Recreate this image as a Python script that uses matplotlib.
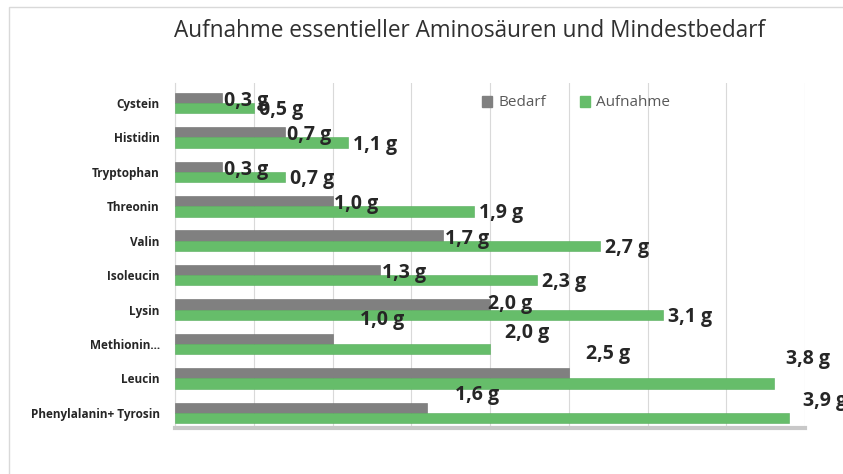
import matplotlib
matplotlib.use("Agg")
import matplotlib.pyplot as plt
from matplotlib import font_manager
from matplotlib.patches import Rectangle
import numpy as np

# data (top to bottom, as in the chart)
categories = ['Cystein', 'Histidin', 'Tryptophan', 'Threonin', 'Valin',
              'Isoleucin', 'Lysin', 'Methionin...', 'Leucin', 'Phenylalanin+ Tyrosin']
bedarf = [0.3, 0.7, 0.3, 1.0, 1.7, 1.3, 2.0, 1.0, 2.5, 1.6]
aufnahme = [0.5, 1.1, 0.7, 1.9, 2.7, 2.3, 3.1, 2.0, 3.8, 3.9]

GRAY = '#808080'
GREEN = '#66bd6a'
GRID = '#d9d9d9'
TEXT = '#262626'

available = {f.name for f in font_manager.fontManager.ttflist}
NARROW = 'Liberation Sans Narrow' if 'Liberation Sans Narrow' in available else 'Open Sans'
plt.rcParams['font.family'] = [NARROW, 'DejaVu Sans']

# label offsets in pixels (dx, dy up) from bar end; the original puts some labels off the bars
bedarf_off = {6: (-2, 0), 7: (28, 19), 8: (17, 19), 9: (28, 13)}
aufnahme_off = {7: (15, 16), 8: (13, 25), 9: (14, 17)}


def fmt(v):
    return f"{v:.1f} g".replace('.', ',')


def draw_chart():
    fig = plt.figure(figsize=(8.43, 4.74), dpi=100)
    fig.patches.append(Rectangle((9 / 843, -0.1), 1.1, 1 - 7 / 474 + 0.1,
                                 transform=fig.transFigure, fill=False,
                                 edgecolor=GRID, linewidth=1))

    ax = fig.add_axes([175 / 843, 1 - 428 / 474, 630 / 843, 345 / 474])
    y = np.arange(len(categories))
    h = 0.3
    ax.barh(y - h / 2, bedarf, height=h, color=GRAY, edgecolor='#6e6e6e', linewidth=0.4, zorder=3)
    ax.barh(y + h / 2, aufnahme, height=h, color=GREEN, edgecolor='#58ad5c', linewidth=0.4, zorder=3)

    ax.set_xlim(0, 4)
    ax.set_ylim(9.44, -0.58)
    ax.set_xticks(np.arange(0, 4.01, 0.5))
    ax.xaxis.grid(True, color=GRID, linewidth=0.8, zorder=0)
    ax.tick_params(axis='x', length=0, labelbottom=False)
    ax.set_yticks(y)
    ax.set_yticklabels(categories, fontsize=8.5, fontweight='bold', color=TEXT)
    ax.tick_params(axis='y', length=0, pad=11)
    for s in ['top', 'right']:
        ax.spines[s].set_visible(False)
    ax.spines['left'].set_color(GRID)
    ax.spines['bottom'].set_color('#c8c8c8')
    ax.spines['bottom'].set_linewidth(3)

    for i, v in enumerate(bedarf):
        dx, dy = bedarf_off.get(i, (2, -3))
        ax.annotate(fmt(v), (v, i - h / 2), xytext=(dx, dy), textcoords='offset pixels',
                    ha='left', va='center', fontsize=14, fontweight='bold', color=TEXT, zorder=4)
    for i, v in enumerate(aufnahme):
        dx, dy = aufnahme_off.get(i, (5, -2))
        ax.annotate(fmt(v), (v, i + h / 2), xytext=(dx, dy), textcoords='offset pixels',
                    ha='left', va='center', fontsize=14, fontweight='bold', color=TEXT, zorder=4)

    ax.legend([Rectangle((0, 0), 1, 1, color=GRAY), Rectangle((0, 0), 1, 1, color=GREEN)],
              ['Bedarf', 'Aufnahme'], loc='center', bbox_to_anchor=(576 / 843, 1 - 103 / 474),
              bbox_transform=fig.transFigure, ncol=2, frameon=False, fontsize=11,
              labelcolor='#595959', handlelength=0.7, handleheight=0.7,
              handletextpad=0.4, columnspacing=2.2)

    fig.text(470 / 843, 1 - 31 / 474, 'Aufnahme essentieller Aminosäuren und Mindestbedarf',
             ha='center', va='center', fontsize=16.3, color='#303030',
             family=['Open Sans', 'DejaVu Sans'])

    fig.savefig('out.png', dpi=100)
    plt.close(fig)


if __name__ == "__main__":
    draw_chart()
